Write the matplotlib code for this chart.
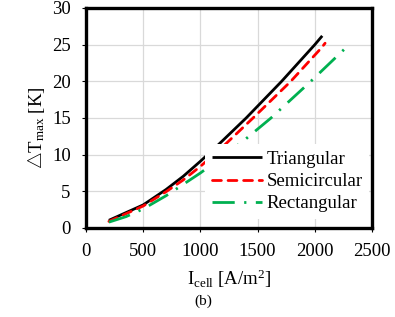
import matplotlib
matplotlib.use("Agg")
import matplotlib.pyplot as plt

plt.rcParams['font.family'] = ['Liberation Serif', 'DejaVu Sans']
plt.rcParams['mathtext.fontset'] = 'custom'
plt.rcParams['mathtext.rm'] = 'Liberation Serif'
plt.rcParams['mathtext.it'] = 'Liberation Serif:italic'
plt.rcParams['mathtext.fallback'] = 'cm'

# Data
x_tri = [200, 300, 500, 700, 850, 1000, 1150, 1400, 1710, 2000, 2065]
y_tri = [1.05, 1.75, 3.15, 5.25, 7.05, 9.1, 11.25, 15.0, 20.0, 25.0, 26.2]
x_semi = [200, 300, 500, 700, 850, 1000, 1190, 1460, 1790, 2060, 2090]
y_semi = [0.9, 1.6, 3.0, 4.95, 6.55, 8.4, 11.0, 15.0, 20.0, 24.6, 25.2]
x_rect = [200, 350, 500, 700, 850, 1000, 1200, 1374, 1617, 1965, 2300]
y_rect = [0.8, 1.55, 2.6, 4.4, 5.95, 7.5, 9.8, 11.85, 15.0, 20.0, 25.0]
labels = ["Triangular", "Semicircular", "Rectangular"]
xticks = [0, 500, 1000, 1500, 2000, 2500]
yticks = [0, 5, 10, 15, 20, 25, 30]

fig = plt.figure(figsize=(3.95, 3.17), dpi=100)
ax = fig.add_axes([86/395, 1-228/317, (372-86)/395, (228-8)/317])

ax.plot(x_tri, y_tri, color='black', lw=2.0, solid_capstyle='butt', label=labels[0], zorder=3)
ax.plot(x_semi, y_semi, color='#ff0000', lw=2.0, dashes=(3.2, 2.4), dash_capstyle='round',
        label=labels[1], zorder=3)
ax.plot(x_rect, y_rect, color='#00b050', lw=2.0, dashes=(8, 3.4, 0.8, 3.4), label=labels[2], zorder=3)

ax.set_xlim(0, 2500)
ax.set_ylim(0, 30)
ax.set_xticks(xticks)
ax.set_yticks(yticks)
ax.grid(True, color='#d9d9d9', lw=0.9)
ax.set_axisbelow(True)
for s in ax.spines.values():
    s.set_linewidth(2.4)
    s.set_color('black')
ax.tick_params(axis='both', direction='out', length=3, width=0.8, labelsize=13.5)
ax.tick_params(axis='x', pad=8)
ax.tick_params(axis='y', pad=8)

ax.set_ylabel('$\\bigtriangleup$T$_{\\mathrm{max}}$ [K]', fontsize=13.5)
ax.yaxis.set_label_coords(-0.138, 0.455)
ax.set_xlabel('I$_{\\mathrm{cell}}$ [A/m$^2$]', fontsize=13.5, labelpad=5)

leg = ax.legend(loc='upper left', bbox_to_anchor=(205/395, 1-144/317),
                bbox_transform=fig.transFigure, fontsize=13.5, frameon=True,
                fancybox=False, edgecolor='none', facecolor='white', framealpha=1,
                handlelength=2.67, handletextpad=0.27, borderpad=0.35,
                labelspacing=0.28, borderaxespad=0)
leg.set_zorder(5)

fig.text(203/395, 1-301/317, '(b)', fontsize=11, ha='center', va='center')

fig.savefig('out.png', dpi=100)
